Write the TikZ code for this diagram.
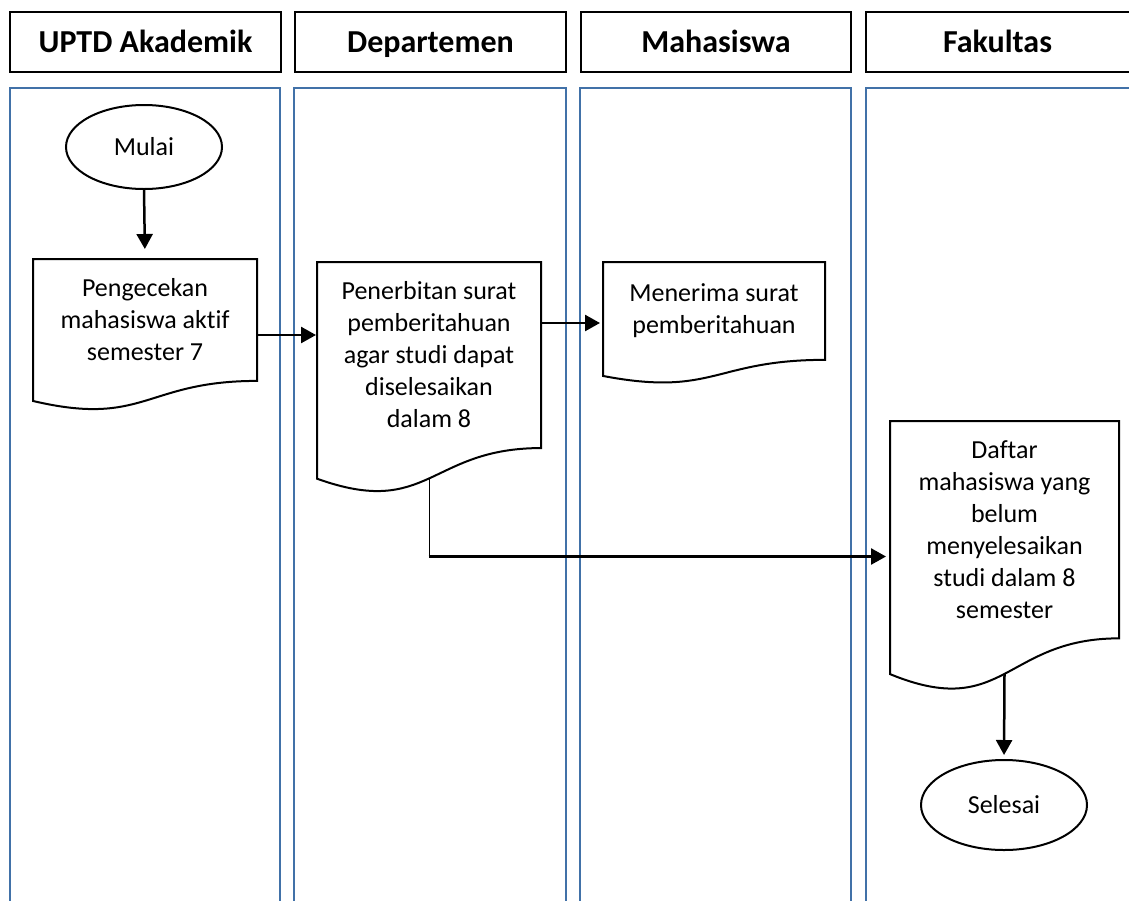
\documentclass[tikz,border=0pt]{standalone}
\usepackage{fontspec}
\setmainfont[Ligatures=NoCommon]{Carlito}
\usetikzlibrary{arrows.meta,calc,shapes.geometric}
\definecolor{laneblue}{RGB}{65,113,168}
\tikzset{
 lane/.style={draw=laneblue, line width=2pt},
 hdr/.style={draw=black, line width=2pt, minimum width=271pt, minimum height=60pt, font=\fontsize{32}{38}\selectfont\bfseries, outer sep=0pt, inner sep=0pt, text height=26pt, text depth=5pt},
 term/.style={ellipse, draw, line width=2pt, font=\fontsize{26}{32}\selectfont, outer sep=0pt, inner sep=0pt},
 docbox/.style={draw=none, outer sep=0pt, inner sep=0pt},
 doctext/.style={align=center, font=\fontsize{26}{32}\selectfont, inner sep=0pt},
 docline/.style={draw, line width=2pt, line join=miter},
 arr/.style={line width=2.5pt, -{Triangle[width=16pt,length=15pt]}},
 thinline/.style={line width=1pt}
}
\newcommand{\docshape}[1]{%
 \draw[docline] (#1.north west) -- (#1.north east) -- ($(#1.north east)!0.802!(#1.south east)$)
  .. controls ($(#1.north)!0.802!(#1.south)$) and ($(#1.north)!1.1075!(#1.south)$) ..
  ($(#1.north west)!0.934!(#1.south west)$) -- cycle;}
\begin{document}
\begin{tikzpicture}[x=1pt,y=-1pt]
\useasboundingbox (0,0) rectangle (1129,900);
\clip (0,0) rectangle (1129,900);
% lanes
\draw[lane] (9.5,88) rectangle (280,915);
\draw[lane] (294,88) rectangle (566,915);
\draw[lane] (580,88) rectangle (851,915);
\draw[lane] (866,88) rectangle (1160,915);
% headers
\node[hdr] (h1) at (145.5,42) {UPTD Akademik};
\node[hdr] (h2) at (430.5,42) {Departemen};
\node[hdr, minimum width=270pt] (h3) at (716,42) {Mahasiswa};
\node[hdr, draw=none, minimum width=263pt] (h4) at (997.5,42) {Fakultas};
\draw[line width=2pt] ([xshift=30pt]h4.north east) -- (h4.north west) -- (h4.south west) -- ([xshift=30pt]h4.south east);
% terminals
\node[term, minimum width=156pt, minimum height=84pt] (mulai) at (144,147) {Mulai};
\node[term, minimum width=166pt, minimum height=90pt] (selesai) at (1004,805) {Selesai};
% documents
\node[docbox, minimum width=224pt, minimum height=152pt] (d1) at (145,335) {};
\docshape{d1}
\node[doctext] at ($(d1.north)!0.4!(d1.south)$) {Pengecekan\\mahasiswa aktif\\semester 7};
\node[docbox, minimum width=224pt, minimum height=232pt] (d2) at (429,378) {};
\docshape{d2}
\node[doctext] at ($(d2.north)!0.4!(d2.south)$) {Penerbitan surat\\pemberitahuan\\agar studi dapat\\diselesaikan\\dalam 8};
\node[docbox, minimum width=222pt, minimum height=122pt] (d3) at (714,323) {};
\docshape{d3}
\node[doctext] at ($(d3.north)!0.4!(d3.south)$) {Menerima surat\\pemberitahuan};
\node[docbox, minimum width=229pt, minimum height=271pt] (d4) at (1004.5,556.5) {};
\docshape{d4}
\node[doctext] at ($(d4.north)!0.4!(d4.south)$) {Daftar\\mahasiswa yang\\belum\\menyelesaikan\\studi dalam 8\\semester};
% connectors
\draw[arr, shorten >=10pt] (mulai.south) -- (d1.north);
\draw[arr, shorten >=1pt] (d1.east) -- (d1.east -| d2.west);
\draw[arr, shorten >=3pt] (d2.east |- d3.west) -- (d3.west);
\coordinate (d2b) at ($(d2.north)!0.933!(d2.south)$);
\coordinate (turn) at (d2b |- d4.west);
\draw[thinline] (d2b) -- (turn);
\draw[arr, shorten >=4pt] ([xshift=-0.5pt]turn) -- (d4.west);
\coordinate (d4b) at ($(d4.north)!0.933!(d4.south)$);
\draw[arr, shorten >=5pt] (d4b) -- (selesai.north);
\end{tikzpicture}
\end{document}
